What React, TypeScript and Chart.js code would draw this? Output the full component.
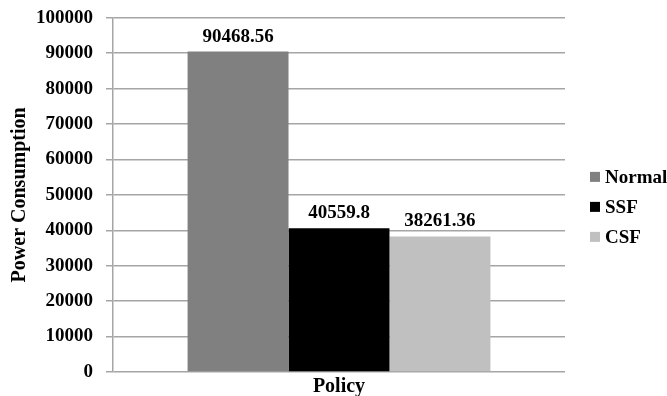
import React, { useEffect, useRef } from "react";
import { Chart, registerables } from "chart.js";

Chart.register(...registerables);

const categories = [""];
const seriesNames = ["Normal", "SSF", "CSF"];
const normalValues = [90468.56];
const ssfValues = [40559.8];
const csfValues = [38261.36];
const seriesColors = ["#808080", "#000000", "#c0c0c0"];
const yTickMin = 0;
const yTickMax = 100000;
const yTickStep = 10000;

const FONT = "'Times New Roman', 'Liberation Serif', serif";

const valueLabels = {
  id: "valueLabels",
  afterDatasetsDraw(chart: any) {
    const ctx = chart.ctx;
    ctx.save();
    ctx.font = `bold 19px ${FONT}`;
    ctx.fillStyle = "#000";
    ctx.textAlign = "center";
    ctx.textBaseline = "alphabetic";
    chart.data.datasets.forEach((ds: any, i: number) => {
      const meta = chart.getDatasetMeta(i);
      meta.data.forEach((bar: any, j: number) => {
        ctx.fillText(String(ds.data[j]), bar.x, bar.y - 10);
      });
    });
    ctx.restore();
  },
};

const sideLegend = {
  id: "sideLegend",
  afterDraw(chart: any) {
    const ctx = chart.ctx;
    const area = chart.chartArea;
    const items = chart.data.datasets;
    const rowH = 30;
    const cy = (area.top + area.bottom) / 2 + 12;
    const x0 = area.right + 25;
    ctx.save();
    ctx.font = `bold 19px ${FONT}`;
    ctx.textAlign = "left";
    ctx.textBaseline = "middle";
    items.forEach((ds: any, i: number) => {
      const y = cy + (i - (items.length - 1) / 2) * rowH;
      ctx.fillStyle = ds.backgroundColor;
      ctx.fillRect(x0, y - 5, 10, 10);
      ctx.fillStyle = "#000";
      ctx.fillText(ds.label, x0 + 15, y + 1);
    });
    ctx.restore();
  },
};

export default function App() {
  const ref = useRef<HTMLCanvasElement | null>(null);
  useEffect(() => {
    if (!ref.current) return;
    const values = [normalValues, ssfValues, csfValues];
    const chart = new Chart(ref.current, {
      type: "bar",
      data: {
        labels: categories,
        datasets: seriesNames.map((name, i) => ({
          label: name,
          data: values[i],
          backgroundColor: seriesColors[i],
          borderWidth: 0,
          categoryPercentage: 0.67,
          barPercentage: 1,
        })),
      },
      options: {
        animation: false,
        responsive: false,
        maintainAspectRatio: false,
        layout: { padding: { left: 0, top: 0, right: 102, bottom: 0 } },
        plugins: {
          tooltip: { enabled: false },
          legend: { display: false },
        },
        scales: {
          x: {
            grid: { display: false, drawTicks: false },
            border: { display: false },
            ticks: { display: false },
            title: {
              display: true,
              text: "Policy",
              color: "#000",
              font: { family: FONT, size: 20, weight: "bold", lineHeight: 1 },
              padding: { top: 5, bottom: -1 },
            },
          },
          y: {
            min: yTickMin,
            max: yTickMax,
            ticks: {
              stepSize: yTickStep,
              color: "#000",
              padding: 13,
              font: { family: FONT, size: 19, weight: "bold", lineHeight: 0.5 },
              callback: (v: any) => String(v),
            },
            grid: { color: "#a5a5a5", lineWidth: 1.5, tickLength: 7 },
            border: { color: "#a5a5a5", width: 1.5 },
            title: {
              display: true,
              text: "Power Consumption",
              color: "#000",
              font: { family: FONT, size: 20, weight: "bold" },
              padding: { top: 8, bottom: -9 },
            },
          },
        },
      },
      plugins: [valueLabels, sideLegend],
    });
    return () => chart.destroy();
  }, []);
  return (
    <div style={{ position: "fixed", left: 0, top: 0, width: 667, height: 396, background: "#fff" }}>
      <canvas ref={ref} width={667} height={396} style={{ width: 667, height: 396 }} />
    </div>
  );
}
